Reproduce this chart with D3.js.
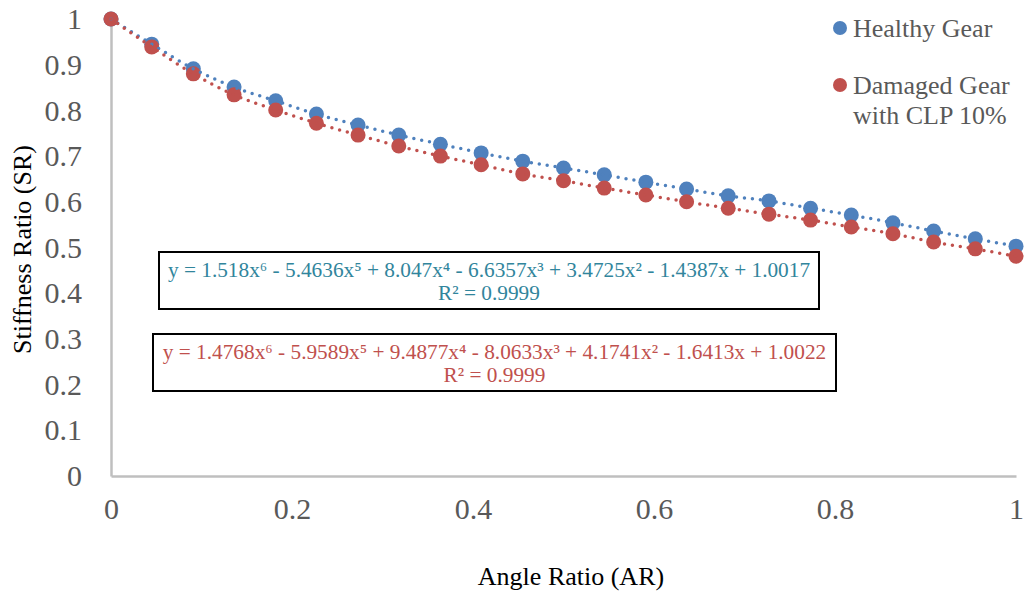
<!DOCTYPE html>
<html>
<head>
<meta charset="utf-8">
<script src="https://cdn.jsdelivr.net/npm/d3@7"></script>
<style>
  body { margin: 0; background: #fff; }
</style>
</head>
<body>
<svg width="1026" height="592"></svg>
<script>
const angleRatio = [0, 0.045, 0.091, 0.136, 0.182, 0.227, 0.273, 0.318, 0.364, 0.409, 0.455, 0.5,
    0.545, 0.591, 0.636, 0.682, 0.727, 0.773, 0.818, 0.864, 0.909, 0.955, 1];
const healthy = [1.0, 0.945, 0.891, 0.851, 0.821, 0.792, 0.768, 0.746, 0.726, 0.707, 0.689, 0.674,
    0.659, 0.643, 0.628, 0.613, 0.602, 0.586, 0.571, 0.554, 0.536, 0.519, 0.503];
const damaged = [1.0, 0.939, 0.880, 0.834, 0.801, 0.772, 0.746, 0.722, 0.700, 0.681, 0.661, 0.646,
    0.630, 0.615, 0.600, 0.586, 0.573, 0.560, 0.545, 0.530, 0.512, 0.497, 0.481];
const xTicks = [0, 0.2, 0.4, 0.6, 0.8, 1];
const yTicks = [0, 0.1, 0.2, 0.3, 0.4, 0.5, 0.6, 0.7, 0.8, 0.9, 1];
const seriesNames = ['Healthy Gear', 'Damaged Gear|with CLP 10%'];
const eqHealthy = ['y = 1.518x⁶ - 5.4636x⁵ + 8.047x⁴ - 6.6357x³ + 3.4725x² - 1.4387x + 1.0017', 'R² = 0.9999'];
const eqDamaged = ['y = 1.4768x⁶ - 5.9589x⁵ + 9.4877x⁴ - 8.0633x³ + 4.1741x² - 1.6413x + 1.0022', 'R² = 0.9999'];

const FONT = "'Liberation Serif', 'Times New Roman', serif";
const svg = d3.select('svg').attr('font-family', FONT);
const margin = { top: 19, right: 10, bottom: 116, left: 111 };
const innerWidth = 1026 - margin.left - margin.right;
const innerHeight = 592 - margin.top - margin.bottom;

const xScale = d3.scaleLinear().domain([0, 1]).range([0, innerWidth]);
const yScale = d3.scaleLinear().domain([0, 1]).range([innerHeight, 0]);

const g = svg.append('g')
    .attr('transform', `translate(${margin.left}, ${margin.top})`);

// axes
const yAxis = g.append('g')
    .call(d3.axisLeft(yScale).tickValues(yTicks).tickSize(0).tickPadding(29).tickFormat(d3.format('')));
const xAxis = g.append('g')
    .attr('transform', `translate(0, ${innerHeight})`)
    .call(d3.axisBottom(xScale).tickValues(xTicks).tickSize(0).tickPadding(22).tickFormat(d3.format('')));
[xAxis, yAxis].forEach(a => {
    a.attr('font-family', FONT).attr('font-size', 30);
    a.select('.domain').attr('stroke', '#bfbfbf').attr('stroke-width', 2.5);
    a.selectAll('text').attr('fill', '#595959');
});

// titles
svg.append('text')
    .attr('transform', `translate(31, ${margin.top + innerHeight / 2 + 2}) rotate(-90)`)
    .attr('text-anchor', 'middle')
    .attr('font-size', 26)
    .text('Stiffness Ratio (SR)');
svg.append('text')
    .attr('x', 571).attr('y', 585)
    .attr('text-anchor', 'middle')
    .attr('font-size', 26)
    .text('Angle Ratio (AR)');

const colors = ['#4f81bd', '#c0504d'];
const series = [healthy, damaged];

const line = d3.line()
    .x((d, i) => xScale(angleRatio[i]))
    .y(d => yScale(d))
    .curve(d3.curveMonotoneX);

series.forEach((s, k) => {
    g.append('g').selectAll('circle').data(s)
        .enter().append('circle')
            .attr('cx', (d, i) => xScale(angleRatio[i]))
            .attr('cy', d => yScale(d))
            .attr('r', 7.5)
            .attr('fill', colors[k]);
});
series.forEach((s, k) => {
    g.append('path')
        .datum(s)
        .attr('d', line)
        .attr('fill', 'none')
        .attr('stroke', colors[k])
        .attr('stroke-width', 3.5)
        .attr('stroke-linecap', 'round')
        .attr('stroke-dasharray', '0,8');
});

// legend
const legend = svg.append('g');
const legendY = [28, 85];
seriesNames.forEach((name, k) => {
    legend.append('circle')
        .attr('cx', 840).attr('cy', legendY[k]).attr('r', 7)
        .attr('fill', colors[k]);
    name.split('|').forEach((part, j) => {
        legend.append('text')
            .attr('x', 853).attr('y', legendY[k] + j * 30)
            .attr('dy', '0.33em')
            .attr('fill', '#595959')
            .attr('font-size', 26)
            .text(part);
    });
});

// equation boxes
const boxes = [
    { lines: eqHealthy, color: '#31859c', x: 159, y: 252, w: 660, h: 57 },
    { lines: eqDamaged, color: '#c0504d', x: 153, y: 334, w: 683, h: 57 }
];
boxes.forEach(b => {
    svg.append('rect')
        .attr('x', b.x).attr('y', b.y).attr('width', b.w).attr('height', b.h)
        .attr('fill', '#fff').attr('stroke', '#000').attr('stroke-width', 2);
    b.lines.forEach((t, j) => {
        svg.append('text')
            .attr('x', b.x + b.w / 2).attr('y', b.y + 18 + j * 23)
            .attr('dy', '0.35em')
            .attr('text-anchor', 'middle')
            .attr('fill', b.color)
            .attr('font-size', 21.3)
            .text(t);
    });
});
</script>
</body>
</html>
